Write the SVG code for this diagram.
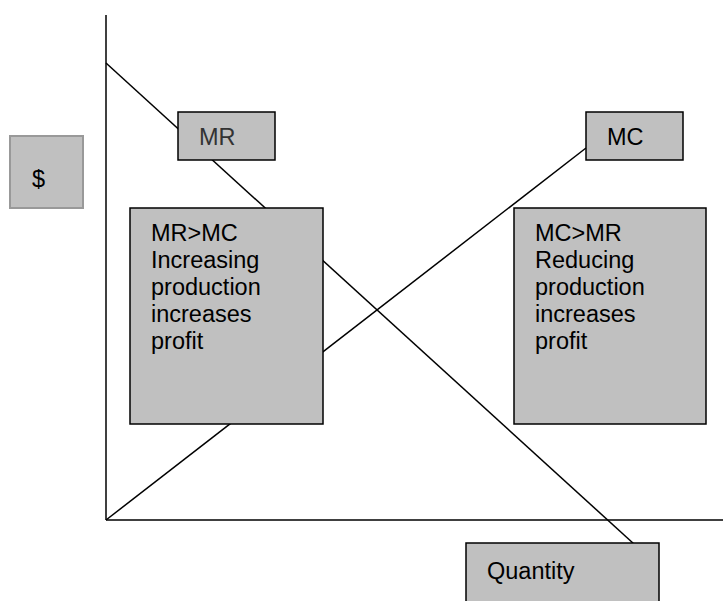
<svg xmlns="http://www.w3.org/2000/svg" width="723" height="601" viewBox="0 0 723 601">
<style>
.box{fill:#c0c0c0;stroke:#000;stroke-width:1.5}
.lbl{font-family:"Liberation Sans",Arial,sans-serif;font-size:23.5px;fill:#000}
.ln{stroke:#000;stroke-width:1.5;fill:none}
</style>
<rect width="723" height="601" fill="#fff"/>
<g id="connectors">
<line class="ln" x1="106" y1="15" x2="106" y2="520"/>
<line class="ln" x1="106" y1="520" x2="723" y2="520"/>
<line class="ln" x1="106" y1="63" x2="634" y2="544"/>
<line class="ln" x1="106" y1="520" x2="586" y2="148"/>
</g>
<g id="dollar">
<rect x="10" y="136" width="73" height="72" fill="#c0c0c0" stroke="#999" stroke-width="2"/>
<text class="lbl" x="32" y="187">$</text>
</g>
<g id="mr">
<rect class="box" x="178" y="112" width="97" height="48"/>
<text class="lbl" x="199" y="145" fill="#333" style="fill:#333">MR</text>
</g>
<g id="mc">
<rect class="box" x="586" y="112" width="97" height="48"/>
<text class="lbl" x="607" y="145">MC</text>
</g>
<g id="left-region">
<rect class="box" x="130" y="208" width="193" height="216"/>
<text class="lbl" x="151" y="241">MR&gt;MC</text>
<text class="lbl" x="151" y="268">Increasing</text>
<text class="lbl" x="151" y="295">production</text>
<text class="lbl" x="151" y="322">increases</text>
<text class="lbl" x="151" y="349">profit</text>
</g>
<g id="right-region">
<rect class="box" x="514" y="208" width="192" height="216"/>
<text class="lbl" x="535" y="241">MC&gt;MR</text>
<text class="lbl" x="535" y="268">Reducing</text>
<text class="lbl" x="535" y="295">production</text>
<text class="lbl" x="535" y="322">increases</text>
<text class="lbl" x="535" y="349">profit</text>
</g>
<g id="quantity">
<rect class="box" x="466" y="543" width="193" height="70"/>
<text class="lbl" x="487" y="579">Quantity</text>
</g>
</svg>
